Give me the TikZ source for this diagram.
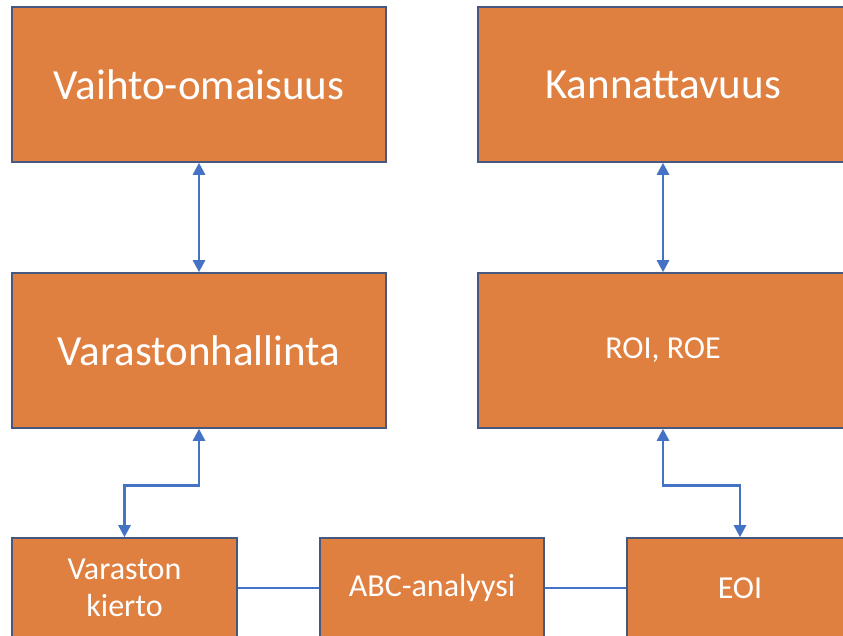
\documentclass[tikz,border=0pt]{standalone}
\usepackage{fontspec}
\setmainfont{Carlito}
\usepackage{tikz}
\usetikzlibrary{arrows.meta}
\definecolor{oranssi}{RGB}{223,128,64}
\definecolor{reuna}{RGB}{70,88,128}
\definecolor{sininen}{RGB}{68,114,196}

\begin{document}
\begin{tikzpicture}[
      x=1pt,y=1pt,
      laatikko/.style={
        rectangle,
        draw=reuna,
        fill=oranssi,
        line width=1.6pt,
        inner sep=0pt,
        text=white,
        align=center
      },
      iso/.style={
        laatikko,
        minimum height=155,
        font=\fontsize{43}{51}\selectfont
      },
      pieni/.style={
        laatikko,
        minimum height=100,
        font=\fontsize{32}{37}\selectfont
      },
      nuoli/.style={
        draw=sininen,
        line width=2.6pt,
        {Triangle[length=12pt,width=12pt]}-{Triangle[length=12pt,width=12pt]}
      },
      viiva/.style={
        draw=sininen,
        line width=2.6pt
      }
    ]
      \useasboundingbox (0,0) rectangle (843,636);
      \clip (0,0) rectangle (843,636);

      \node (vaihto) at (199,551.5) [iso,minimum width=374]{Vaihto-omaisuus};
      \node (kann) at (663,551.5) [iso,minimum width=370]{Kannattavuus};

      \node (varasto) at (199,285.5) [iso,minimum width=374]{Varastonhallinta};
      \node (roi) at (663,285.5) [iso,minimum width=370,font=\fontsize{32}{37}\selectfont]{ROI, ROE};

      \node (kierto) at (124.5,48) [pieni,minimum width=225]{Varaston\\kierto};
      \node (abc) at (432,48) [pieni,minimum width=224]{ABC-analyysi};
      \node (eoi) at (740,48) [pieni,minimum width=226]{EOI};

      \draw[nuoli] (vaihto) -- (varasto);
      \draw[nuoli] (kann) -- (roi);

      \draw[nuoli] (varasto.south) -- ++(0,-57) -| (kierto.north);
      \draw[nuoli] (roi.south) -- ++(0,-57) -| (eoi.north);

      \draw[viiva] (kierto) -- (abc);
      \draw[viiva] (abc) -- (eoi);

    \end{tikzpicture}
\end{document}
